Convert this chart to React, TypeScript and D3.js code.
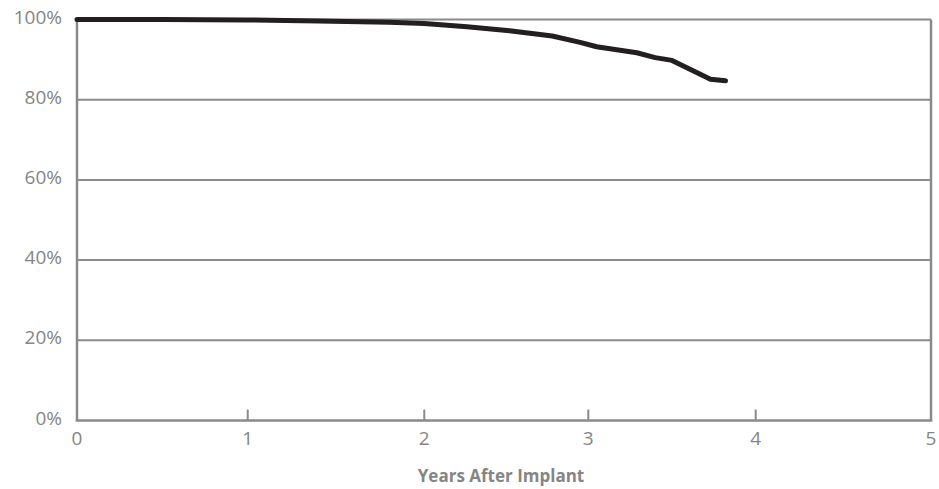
import React from "react";
import * as d3 from "d3";

const years: number[] = [0, 0.5, 1.0, 1.4, 1.8, 2.0, 2.26, 2.52, 2.78, 2.95, 3.05, 3.29, 3.4, 3.5, 3.73, 3.82];
const survival: number[] = [100, 100, 99.9, 99.6, 99.3, 99.0, 98.2, 97.2, 95.9, 94.3, 93.2, 91.7, 90.5, 89.8, 85.1, 84.7];
const xTicks: number[] = [0, 1, 2, 3, 4, 5];
const yTicks: number[] = [0, 20, 40, 60, 80, 100];
const xTitle = "Years After Implant";

const W = 939;
const H = 489;
const GRAY = "#8a8a8a";
const TEXT = "#858585";
const FONT = "'Open Sans', 'Noto Sans', sans-serif";

export default function App() {
  // x positions of the year ticks as drawn in the reference (slightly uneven)
  const x = d3.scaleLinear().domain(xTicks).range([77, 247.7, 424.3, 588.3, 755.7, 931]);
  const y = d3.scaleLinear().domain([0, 100]).range([420.5, 19.5]);

  const pts: [number, number][] = years.map((t, i) => [t, survival[i]]);
  const line = d3
    .line<[number, number]>()
    .x((d) => x(d[0]))
    .y((d) => y(d[1]))
    .curve(d3.curveLinear);

  const x0 = x(0);
  const x5 = x(5);

  return (
    <svg
      width={W}
      height={H}
      style={{ position: "absolute", left: 0, top: 0, background: "#fff" }}
      fontFamily={FONT}
    >
      {yTicks.map((v) => (
        <g key={v}>
          {v > 0 && (
            <line x1={x0} x2={x5} y1={y(v)} y2={y(v)} stroke={GRAY} strokeWidth={2} />
          )}
          <text
            x={62}
            y={y(v) + 4}
            textAnchor="end"
            fontSize={19}
            fill={TEXT}
          >
            {v}%
          </text>
        </g>
      ))}
      <line x1={x0} x2={x0} y1={y(100)} y2={y(0)} stroke={GRAY} strokeWidth={2.5} />
      <line x1={x5} x2={x5} y1={y(100)} y2={y(0)} stroke={GRAY} strokeWidth={2.5} />
      <line x1={x0 - 1.25} x2={x5 + 1.25} y1={y(0)} y2={y(0)} stroke={GRAY} strokeWidth={2.5} />
      {xTicks.map((t) => (
        <g key={t}>
          {t > 0 && t < 5 && (
            <line x1={x(t)} x2={x(t)} y1={y(0)} y2={y(0) - 11} stroke={GRAY} strokeWidth={2} />
          )}
          <text x={x(t)} y={445} textAnchor="middle" fontSize={19} fill={TEXT}>
            {t}
          </text>
        </g>
      ))}
      <text
        x={501}
        y={482}
        textAnchor="middle"
        fontSize={17}
        fontWeight="bold"
        fill={TEXT}
      >
        {xTitle}
      </text>
      <path
        d={line(pts) || ""}
        fill="none"
        stroke="#231f20"
        strokeWidth={5}
        strokeLinecap="round"
        strokeLinejoin="round"
      />
    </svg>
  );
}
